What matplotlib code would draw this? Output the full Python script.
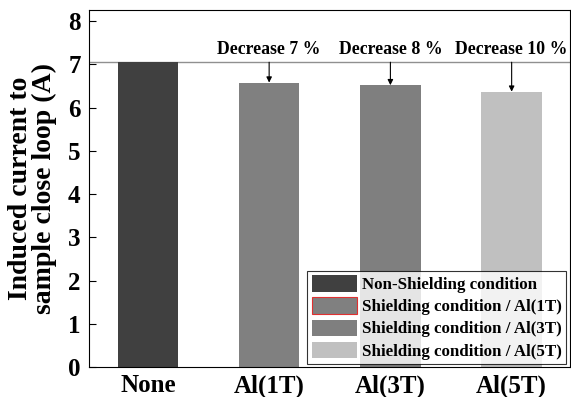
import numpy as np
import matplotlib.pyplot as plt
from matplotlib.patches import Patch

plt.rcParams['font.family'] = ['Liberation Serif', 'DejaVu Serif']
plt.rcParams['font.weight'] = 'bold'

categories = ['None', 'Al(1T)', 'Al(3T)', 'Al(5T)']
current = [7.05, 6.58, 6.52, 6.37]
decrease_labels = ['', 'Decrease 7 %', 'Decrease 8 %', 'Decrease 10 %']
legend_labels = ['Non-Shielding condition', 'Shielding condition / Al(1T)',
                 'Shielding condition / Al(3T)', 'Shielding condition / Al(5T)']
colors = ['#404040', '#808080', '#7f7f7f', '#c0c0c0']

fig = plt.figure(figsize=(5.71, 3.97), dpi=100)
ax = fig.add_axes([0.156, 0.075, 0.842, 0.899])

x = np.arange(len(categories))
ax.bar(x, current, width=0.5, color=colors, edgecolor='none', zorder=2)

# reference line at the non-shielded level
ax.axhline(current[0], color='#909090', lw=1.0, zorder=1)

for i in range(1, len(categories)):
    ax.annotate('', xy=(x[i], current[i]), xytext=(x[i], current[0]),
                arrowprops=dict(arrowstyle='-|>', color='black', lw=0.8,
                                mutation_scale=8, shrinkA=0, shrinkB=0))
    ax.text(x[i], current[0] + 0.1, decrease_labels[i], ha='center', va='bottom',
            fontsize=12.8, fontweight='bold')

ax.set_xlim(-0.485, 3.48)
ax.set_ylim(0, 8.25)
ax.set_yticks(range(0, 9))
ax.set_xticks(x)
ax.set_xticklabels(categories, fontsize=18, fontweight='bold')
ax.tick_params(axis='x', length=0, pad=5)
ax.tick_params(axis='y', direction='in', length=5, labelsize=18, pad=6)
for lab in ax.get_yticklabels():
    lab.set_fontweight('bold')
ax.set_ylabel('Induced current to\nsample close loop (A)', fontsize=20,
              fontweight='bold', labelpad=8, linespacing=0.95)

handles = [Patch(facecolor=colors[0], edgecolor='none'),
           Patch(facecolor=colors[1], edgecolor='#e03030', lw=0.8),
           Patch(facecolor=colors[2], edgecolor='none'),
           Patch(facecolor=colors[3], edgecolor='none')]
leg = ax.legend(handles, legend_labels, loc='lower right', fontsize=12.2,
                frameon=True, fancybox=False, edgecolor='black',
                handlelength=2.7, handleheight=1.1, handletextpad=0.3,
                labelspacing=0.25, borderpad=0.25, borderaxespad=0.2)
leg.get_frame().set_linewidth(0.8)
for t in leg.get_texts():
    t.set_fontweight('bold')

fig.savefig('out.png', dpi=100)
